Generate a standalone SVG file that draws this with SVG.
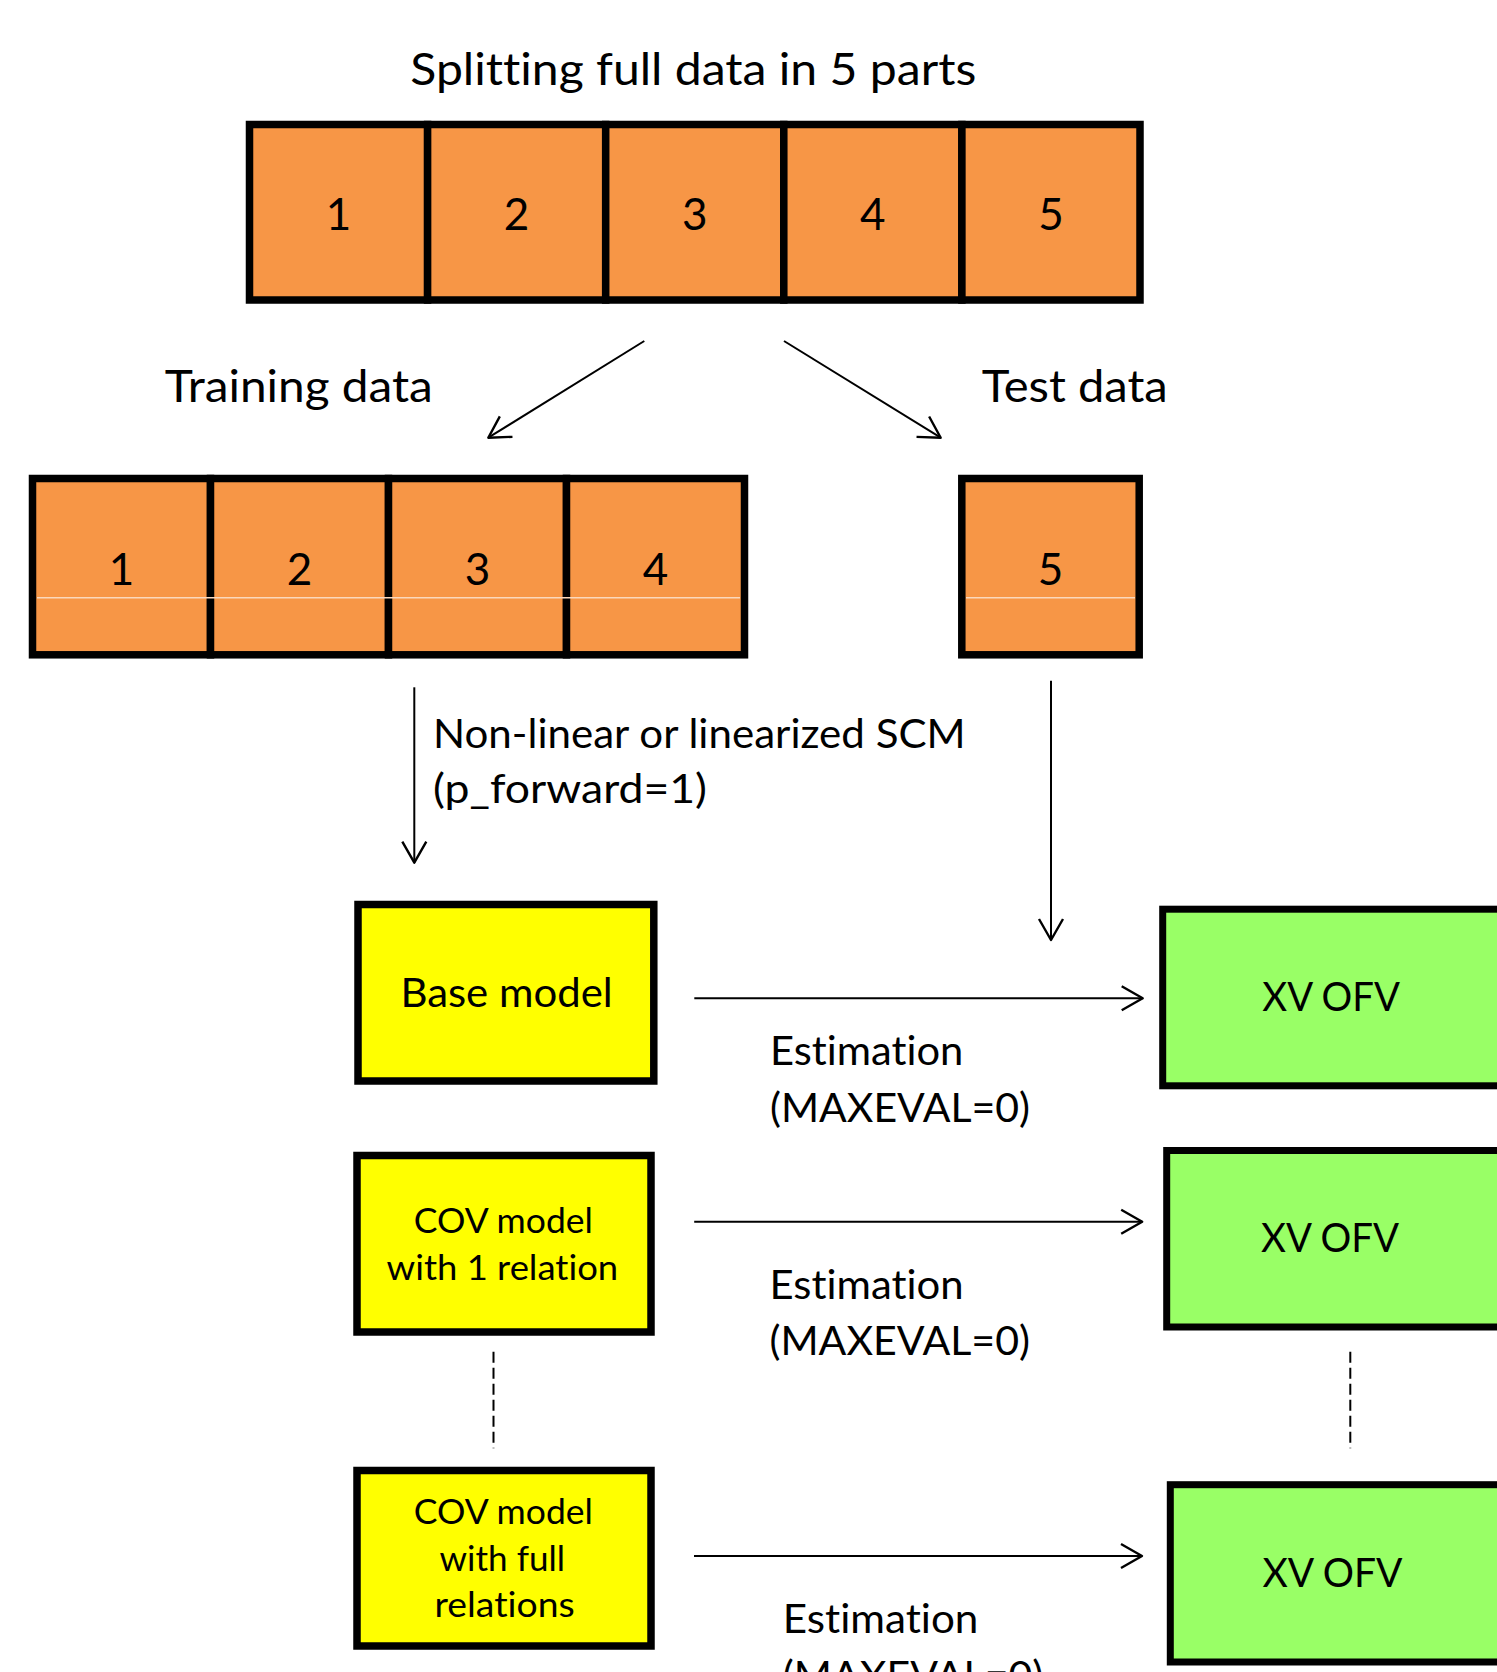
<svg xmlns="http://www.w3.org/2000/svg" width="1497" height="1672" viewBox="0 0 1497 1672">
<defs>
<style>
.cell{fill:#F79646;stroke:#000;stroke-width:7.5}
.ybox{fill:#FFFF00;stroke:#000;stroke-width:7.5}
.gbox{fill:#99FF66;stroke:#000;stroke-width:7}
.sep{stroke:#FBD8BC;stroke-width:1.5}
text{font-family:Lato,"Liberation Sans","DejaVu Sans",sans-serif;fill:#000;font-variant-ligatures:none}
.big{font-size:45px}
.dig{font-size:44px;text-anchor:middle}
.lab{font-size:40px}
.sm{font-size:35px}
.conn{stroke:#000;stroke-width:2;fill:none}
.dash{stroke:#000;stroke-width:2;stroke-dasharray:11 5;fill:none}
</style>
<marker id="arr" markerUnits="userSpaceOnUse" viewBox="-26 -16 30 32" refX="0" refY="0" markerWidth="30" markerHeight="32" orient="auto">
<path d="M-21,-12 L0,0 L-21,12" fill="none" stroke="#000" stroke-width="2.4" stroke-linejoin="round"/>
</marker>
</defs>
<rect width="1497" height="1672" fill="#fff"/>

<g id="title">
<text class="big" x="410.3" y="85" font-size="46" textLength="566" lengthAdjust="spacingAndGlyphs">Splitting full data in 5 parts</text>
</g>

<g id="full-data">
<rect class="cell" x="249.5" y="124.5" width="178.1" height="175.5"/>
<rect class="cell" x="427.6" y="124.5" width="178.1" height="175.5"/>
<rect class="cell" x="605.7" y="124.5" width="178.1" height="175.5"/>
<rect class="cell" x="783.8" y="124.5" width="178.1" height="175.5"/>
<rect class="cell" x="961.9" y="124.5" width="178.1" height="175.5"/>
<text class="dig" x="338.5" y="230">1</text>
<text class="dig" x="516.6" y="230">2</text>
<text class="dig" x="694.7" y="230">3</text>
<text class="dig" x="872.8" y="230">4</text>
<text class="dig" x="1050.9" y="230">5</text>
</g>

<g id="training-label">
<text class="big" x="164.8" y="401.7" textLength="268" lengthAdjust="spacingAndGlyphs">Training data</text>
</g>
<g id="test-label">
<text class="big" x="981.7" y="401.7" textLength="186" lengthAdjust="spacingAndGlyphs">Test data</text>
</g>

<g id="training-data">
<rect class="cell" x="32.5" y="478.5" width="178" height="176.3"/>
<rect class="cell" x="210.5" y="478.5" width="178" height="176.3"/>
<rect class="cell" x="388.5" y="478.5" width="178" height="176.3"/>
<rect class="cell" x="566.5" y="478.5" width="178" height="176.3"/>
<line class="sep" x1="37" y1="597.7" x2="740" y2="597.7"/>
<text class="dig" x="121.5" y="585">1</text>
<text class="dig" x="299.5" y="585">2</text>
<text class="dig" x="477.5" y="585">3</text>
<text class="dig" x="655.5" y="585">4</text>
</g>

<g id="test-data">
<rect class="cell" x="961.8" y="478.5" width="177.4" height="176.3"/>
<line class="sep" x1="966" y1="597.7" x2="1135" y2="597.7"/>
<text class="dig" x="1050.5" y="585">5</text>
</g>

<g id="scm-label">
<text class="lab" x="433" y="748.3" textLength="532.7" lengthAdjust="spacingAndGlyphs">Non-linear or linearized SCM</text>
<text class="lab" x="433" y="803.3" textLength="274" lengthAdjust="spacingAndGlyphs">(p_forward=1)</text>
</g>

<g id="base-model">
<rect class="ybox" x="358" y="904.5" width="295.8" height="176.5"/>
<text class="lab" x="400.4" y="1006.7" textLength="212.3" lengthAdjust="spacingAndGlyphs">Base model</text>
</g>

<g id="cov-1">
<rect class="ybox" x="357" y="1155.5" width="294" height="176.5"/>
<text class="sm" x="413.8" y="1233.3" textLength="179.2" lengthAdjust="spacingAndGlyphs">COV model</text>
<text class="sm" x="386.5" y="1280" textLength="231.7" lengthAdjust="spacingAndGlyphs">with 1 relation</text>
</g>

<g id="cov-full">
<rect class="ybox" x="357" y="1470.5" width="294" height="175.5"/>
<text class="sm" x="413.8" y="1524" textLength="179.2" lengthAdjust="spacingAndGlyphs">COV model</text>
<text class="sm" x="439.6" y="1571" textLength="125.4" lengthAdjust="spacingAndGlyphs">with full</text>
<text class="sm" x="434.5" y="1616.7" textLength="140.2" lengthAdjust="spacingAndGlyphs">relations</text>
</g>

<g id="xv-1">
<rect class="gbox" x="1162.7" y="909.2" width="360" height="176.6"/>
<text class="lab" x="1262.3" y="1011" textLength="137.7" lengthAdjust="spacingAndGlyphs">XV OFV</text>
</g>
<g id="xv-2">
<rect class="gbox" x="1166.7" y="1150.5" width="360" height="176.5"/>
<text class="lab" x="1261" y="1252.3" textLength="138" lengthAdjust="spacingAndGlyphs">XV OFV</text>
</g>
<g id="xv-3">
<rect class="gbox" x="1170.3" y="1484.7" width="360" height="177.3"/>
<text class="lab" x="1262.5" y="1587.3" textLength="140" lengthAdjust="spacingAndGlyphs">XV OFV</text>
</g>

<g id="est-labels">
<text class="lab" x="770" y="1065" textLength="193.3" lengthAdjust="spacingAndGlyphs">Estimation</text>
<text class="lab" x="770" y="1121.7" textLength="260" lengthAdjust="spacingAndGlyphs">(MAXEVAL=0)</text>
<text class="lab" x="769.5" y="1299" textLength="194" lengthAdjust="spacingAndGlyphs">Estimation</text>
<text class="lab" x="769.5" y="1355" textLength="260.5" lengthAdjust="spacingAndGlyphs">(MAXEVAL=0)</text>
<text class="lab" x="782.8" y="1633.3" textLength="195.6" lengthAdjust="spacingAndGlyphs">Estimation</text>
<text class="lab" x="782.8" y="1690" textLength="260.5" lengthAdjust="spacingAndGlyphs">(MAXEVAL=0)</text>
</g>

<g id="connectors">
<line class="conn" x1="644.3" y1="341" x2="488.3" y2="437.7" marker-end="url(#arr)"/>
<line class="conn" x1="784" y1="341" x2="940.7" y2="437.7" marker-end="url(#arr)"/>
<line class="conn" x1="414.3" y1="687.3" x2="414.3" y2="862.7" marker-end="url(#arr)"/>
<line class="conn" x1="1051" y1="680.7" x2="1051" y2="940" marker-end="url(#arr)"/>
<line class="conn" x1="694.3" y1="998.3" x2="1142.7" y2="998.3" marker-end="url(#arr)"/>
<line class="conn" x1="694.2" y1="1221.7" x2="1142.2" y2="1221.7" marker-end="url(#arr)"/>
<line class="conn" x1="694" y1="1556" x2="1142" y2="1556" marker-end="url(#arr)"/>
<line class="dash" x1="493.5" y1="1351.7" x2="493.5" y2="1448.3"/>
<line class="dash" x1="1350.3" y1="1351.7" x2="1350.3" y2="1448.3"/>
</g>
</svg>
